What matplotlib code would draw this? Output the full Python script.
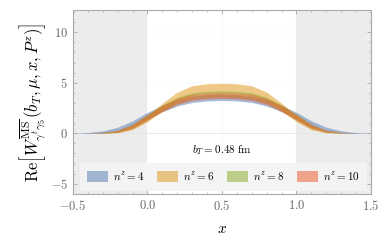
import numpy as np
import matplotlib
matplotlib.use("Agg")
import matplotlib.pyplot as plt
from matplotlib.ticker import MultipleLocator, FuncFormatter

plt.rcParams['font.family'] = 'serif'
plt.rcParams['font.serif'] = ['DejaVu Serif']
plt.rcParams['mathtext.fontset'] = 'cm'

# x grid of the bands
x = [-0.5, -0.4, -0.3, -0.2, -0.1, 0.0, 0.1, 0.2, 0.3, 0.4, 0.5,
     0.6, 0.7, 0.8, 0.9, 1.0, 1.1, 1.2, 1.3, 1.4, 1.5]

# n^z = 4
c4 = [0.0, 0.03, 0.12, 0.4, 0.95, 1.75, 2.45, 3.0, 3.35, 3.5, 3.55,
      3.5, 3.35, 3.0, 2.45, 1.75, 0.95, 0.4, 0.12, 0.03, 0.0]
e4 = [0.0, 0.05, 0.12, 0.2, 0.28, 0.32, 0.32, 0.3, 0.3, 0.3, 0.3,
      0.3, 0.3, 0.3, 0.32, 0.32, 0.28, 0.2, 0.12, 0.05, 0.0]
# n^z = 6
c6 = [0.0, 0.0, 0.02, 0.12, 0.55, 1.45, 2.6, 3.65, 4.25, 4.45, 4.5,
      4.45, 4.25, 3.65, 2.6, 1.45, 0.55, 0.12, 0.02, 0.0, 0.0]
e6 = [0.0, 0.0, 0.02, 0.08, 0.2, 0.3, 0.38, 0.42, 0.45, 0.45, 0.45,
      0.45, 0.45, 0.42, 0.38, 0.3, 0.2, 0.08, 0.02, 0.0, 0.0]
# n^z = 8
c8 = [0.0, 0.0, 0.04, 0.2, 0.7, 1.6, 2.5, 3.25, 3.7, 3.85, 3.9,
      3.85, 3.7, 3.25, 2.5, 1.6, 0.7, 0.2, 0.04, 0.0, 0.0]
e8 = [0.0, 0.0, 0.03, 0.1, 0.2, 0.28, 0.3, 0.3, 0.3, 0.3, 0.3,
      0.3, 0.3, 0.3, 0.3, 0.28, 0.2, 0.1, 0.03, 0.0, 0.0]
# n^z = 10
c10 = [0.0, 0.0, 0.04, 0.2, 0.68, 1.58, 2.45, 3.15, 3.55, 3.7, 3.75,
       3.7, 3.55, 3.15, 2.45, 1.58, 0.68, 0.2, 0.04, 0.0, 0.0]
e10 = [0.0, 0.0, 0.03, 0.1, 0.2, 0.28, 0.3, 0.3, 0.3, 0.3, 0.3,
       0.3, 0.3, 0.3, 0.3, 0.28, 0.2, 0.1, 0.03, 0.0, 0.0]

labels = [r'$n^z=4$', r'$n^z=6$', r'$n^z=8$', r'$n^z=10$']
colors = ['#5e81b5', '#e19c24', '#8fb032', '#eb6235']

fig = plt.figure(figsize=(3.82, 2.43), dpi=100)
ax = fig.add_axes([0.191, 0.202, 0.780, 0.757])

ax.axvspan(-0.5, 0.0, color='#ececec', lw=0, zorder=0)
ax.axvspan(1.0, 1.5, color='#ececec', lw=0, zorder=0)
ax.grid(True, which='major', color='#e4e4e4', lw=0.3, alpha=0.5)
ax.axhline(0, color='#e6e6e6', lw=0.6, zorder=0.5)

xs = np.array(x)
for c, e, col, lab in zip([c4, c6, c8, c10], [e4, e6, e8, e10], colors, labels):
    c = np.array(c)
    e = np.array(e)
    ax.fill_between(xs, c - e, c + e, color=col, alpha=0.55, lw=0, label=lab, zorder=2)

ax.text(0.5, -1.7, r'$b_T=0.48\ \mathrm{fm}$', ha='center', va='center', fontsize=8)

ax.set_xlim(-0.5, 1.5)
ax.set_ylim(-6.0, 12.2)
ax.xaxis.set_major_locator(MultipleLocator(0.5))
ax.xaxis.set_minor_locator(MultipleLocator(0.1))
ax.yaxis.set_major_locator(MultipleLocator(5))
ax.yaxis.set_minor_locator(MultipleLocator(1))
ax.xaxis.set_major_formatter(FuncFormatter(lambda v, p: r'$%.1f$' % v))
ax.yaxis.set_major_formatter(FuncFormatter(lambda v, p: r'$%d$' % v))
ax.tick_params(which='both', direction='in', colors='#999999', labelcolor='#666666', labelsize=9, top=True, right=True)
ax.tick_params(which='major', length=3, width=0.5)
ax.tick_params(which='minor', length=1.5, width=0.4)
for s in ax.spines.values():
    s.set_color('#aaaaaa')
    s.set_linewidth(0.8)

ax.set_xlabel(r'$x$', fontsize=11, labelpad=7)
ax.set_ylabel(r'$\mathrm{Re}\left[W^{\overline{\mathrm{MS}}}_{\gamma^t\gamma_5}(b_T,\mu,x,P^z)\right]$', fontsize=12, labelpad=2)

leg = ax.legend(loc='lower center', ncol=4, fontsize=8, frameon=True, fancybox=False,
                bbox_to_anchor=(0.505, 0.018), handlelength=1.9, handleheight=1.1,
                borderpad=0.7, handletextpad=0.45, columnspacing=1.1, borderaxespad=0)
leg.get_frame().set_facecolor('#f4f4f4')
leg.get_frame().set_edgecolor('none')
leg.get_frame().set_alpha(0.95)

fig.savefig('out.png', dpi=100)
